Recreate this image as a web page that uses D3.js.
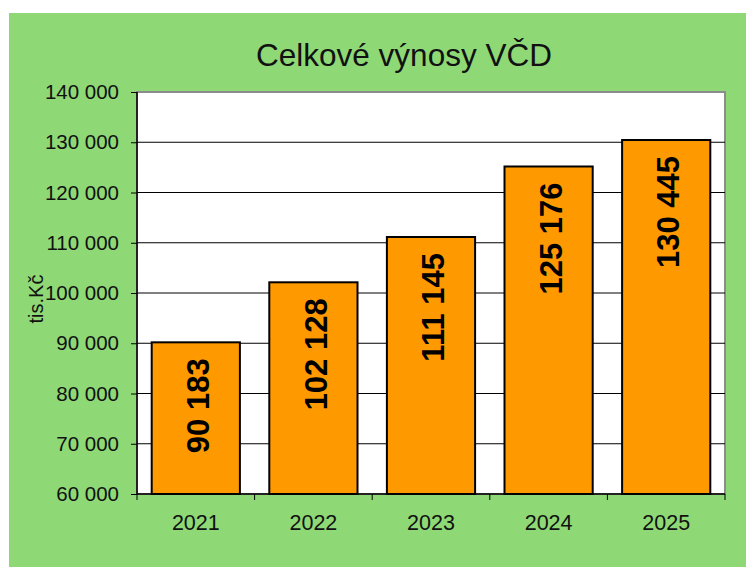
<!DOCTYPE html>
<html>
<head>
<meta charset="utf-8">
<script src="https://cdn.jsdelivr.net/npm/d3@7"></script>
<style>
  body { margin: 0; background: #fff; }
  svg { display: block; font-family: Arial, "Liberation Sans", sans-serif; }
</style>
</head>
<body>
<div id="chart"></div>
<script>
// data
var years = ["2021", "2022", "2023", "2024", "2025"];
var revenues = [90183, 102128, 111145, 125176, 130445];
var yTicks = [60000, 70000, 80000, 90000, 100000, 110000, 120000, 130000, 140000];

var svgWidth = 746, svgHeight = 567;
var margin = { top: 92, right: 21, bottom: 73, left: 137 };
var width = svgWidth - margin.left - margin.right;
var height = svgHeight - margin.top - margin.bottom;

var svg = d3.select("#chart").append("svg")
  .attr("width", svgWidth)
  .attr("height", svgHeight);

// green chart area
svg.append("rect")
  .attr("x", 9).attr("y", 13)
  .attr("width", svgWidth - 9).attr("height", svgHeight - 13)
  .attr("fill", "#8ed975");

svg.append("text")
  .attr("x", 404).attr("y", 66)
  .attr("text-anchor", "middle")
  .attr("font-size", 31.5)
  .attr("fill", "#111")
  .text("Celkové výnosy VČD");

var g = svg.append("g")
  .attr("transform", `translate(${margin.left}, ${margin.top})`);

var x = d3.scaleBand().domain(years).range([0, width]).paddingInner(0.25).paddingOuter(0.125);
var y = d3.scaleLinear().domain([60000, 140000]).range([height, 0]);

// plot area
g.append("rect")
  .attr("width", width).attr("height", height)
  .attr("fill", "#fff")
  .attr("stroke", "#8c8c8c").attr("stroke-width", 2);

// gridlines
g.selectAll(".grid").data(yTicks.slice(1, -1)).enter().append("line")
  .attr("x1", 0).attr("x2", width)
  .attr("y1", d => y(d)).attr("y2", d => y(d))
  .attr("stroke", "#000").attr("stroke-width", 1);

// bars
g.selectAll(".bar").data(revenues).enter().append("rect")
  .attr("x", (d, i) => x(years[i]))
  .attr("y", d => y(d))
  .attr("width", x.bandwidth())
  .attr("height", d => height - y(d))
  .attr("fill", "#ff9900")
  .attr("stroke", "#000").attr("stroke-width", 2);

// bar labels, inside end
var fmt = d => d3.format(",")(d).replace(/,/g, " ");
g.selectAll(".lbl").data(revenues).enter().append("text")
  .attr("transform", (d, i) => `translate(${x(years[i]) + x.bandwidth() / 2 + 2}, ${y(d) + 16}) rotate(-90)`)
  .attr("text-anchor", "end")
  .attr("dy", "0.36em")
  .attr("font-size", 31)
  .attr("font-weight", "bold")
  .attr("fill", "#000")
  .text(fmt);

// y axis
var yAxis = d3.axisLeft(y).tickValues(yTicks).tickSize(6).tickPadding(12).tickFormat(fmt);
var ya = g.append("g").call(yAxis);
ya.select(".domain").attr("stroke", "#000").attr("stroke-width", 1.5).attr("d", `M0,0V${height}`);
ya.selectAll(".tick line").attr("stroke", "#000");
ya.selectAll("text").attr("font-size", 20.5).attr("fill", "#111").attr("font-family", "Arial, 'Liberation Sans', sans-serif");

// x axis with ticks at category borders
var xa = g.append("g").attr("transform", `translate(0, ${height})`);
xa.append("line").attr("x1", 0).attr("x2", width).attr("stroke", "#000").attr("stroke-width", 1.5);
var step = x.step();
xa.selectAll(".xt").data(d3.range(years.length + 1)).enter().append("line")
  .attr("x1", i => i * step).attr("x2", i => i * step)
  .attr("y1", 0).attr("y2", 6)
  .attr("stroke", "#000");
xa.selectAll(".xl").data(years).enter().append("text")
  .attr("x", d => x(d) + x.bandwidth() / 2)
  .attr("y", 36)
  .attr("text-anchor", "middle")
  .attr("font-size", 21.5)
  .attr("fill", "#111")
  .text(d => d);

// y axis title
svg.append("text")
  .attr("transform", "translate(43, 299) rotate(-90)")
  .attr("text-anchor", "middle")
  .attr("font-size", 20)
  .attr("fill", "#111")
  .text("tis.Kč");
</script>
</body>
</html>
